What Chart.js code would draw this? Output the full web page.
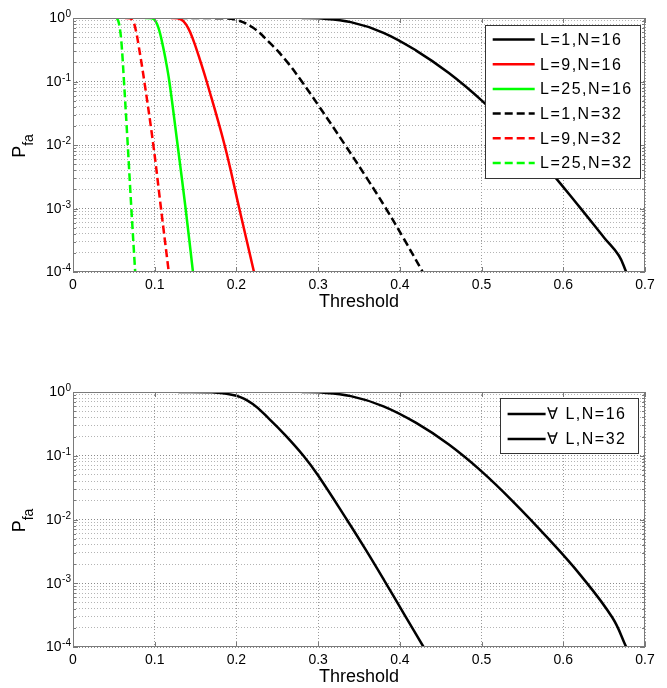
<!DOCTYPE html>
<html>
<head>
<meta charset="utf-8">
<script src="https://cdn.jsdelivr.net/npm/chart.js@4.4.1/dist/chart.umd.min.js"></script>
<style>
  body { margin: 0; background: #fff; }
  #wrap { position: relative; width: 667px; height: 688px; }
  canvas { position: absolute; left: 0; }
</style>
</head>
<body>
<div id="wrap">
  <canvas id="graficoArriba" width="667" height="344" style="top:0"></canvas>
  <canvas id="graficoAbajo" width="667" height="344" style="top:344px"></canvas>
</div>
<script>
// Datos (umbral vs Pfa)
const umbral_L1_N16 = [0.28, 0.30, 0.34, 0.38, 0.42, 0.46, 0.50, 0.54, 0.58, 0.62, 0.65, 0.668, 0.677];
const pfa_L1_N16    = [1, 0.989, 0.861, 0.585, 0.307, 0.136, 0.0505, 0.016, 0.0044, 0.00105, 0.000347, 0.000182, 0.0001];

const umbral_L9_N16 = [0.12, 0.128, 0.135, 0.141, 0.147, 0.1534, 0.1636, 0.1855, 0.2035, 0.2215];
const pfa_L9_N16    = [1, 0.989, 0.891, 0.692, 0.457, 0.263, 0.1, 0.01, 0.001, 0.0001];

const umbral_L25_N16 = [0.088, 0.097, 0.101, 0.105, 0.109, 0.113, 0.1179, 0.128, 0.1378, 0.1468];
const pfa_L25_N16    = [1, 0.989, 0.891, 0.676, 0.417, 0.234, 0.1, 0.01, 0.001, 0.0001];

const umbral_L1_N32 = [0.13, 0.18, 0.20, 0.22, 0.24, 0.26, 0.28, 0.30, 0.333, 0.36, 0.383, 0.405, 0.428];
const pfa_L1_N32    = [1, 0.993, 0.933, 0.708, 0.417, 0.219, 0.1, 0.0427, 0.01, 0.00295, 0.001, 0.000331, 0.0001];

const umbral_L9_N32 = [0.0636, 0.07, 0.0738, 0.077, 0.08, 0.0873, 0.0983, 0.1077, 0.1172];
const pfa_L9_N32    = [1, 0.989, 0.871, 0.631, 0.389, 0.1, 0.01, 0.001, 0.0001];

const umbral_L25_N32 = [0.0535, 0.0555, 0.0575, 0.0595, 0.0624, 0.067, 0.0714, 0.0761];
const pfa_L25_N32    = [1, 0.891, 0.661, 0.38, 0.1, 0.01, 0.001, 0.0001];

// Subgráfico inferior (todas las L)
const umbral_todasL_N16 = [0.28, 0.30, 0.34, 0.38, 0.42, 0.46, 0.50, 0.54, 0.58, 0.62, 0.66, 0.677];
const pfa_todasL_N16    = [1, 0.989, 0.861, 0.596, 0.327, 0.150, 0.0569, 0.0183, 0.00528, 0.00139, 0.00029, 0.0001];

const umbral_todasL_N32 = [0.129, 0.17, 0.20, 0.22, 0.24, 0.26, 0.282, 0.30, 0.335, 0.358, 0.381, 0.405, 0.429];
const pfa_todasL_N32    = [1, 0.989, 0.871, 0.646, 0.38, 0.209, 0.1, 0.049, 0.01, 0.00339, 0.0011, 0.000331, 0.0001];

const etiquetasArriba = ['L=1,N=16', 'L=9,N=16', 'L=25,N=16', 'L=1,N=32', 'L=9,N=32', 'L=25,N=32'];
const etiquetasAbajo = ['\u2200 L,N=16', '\u2200 L,N=32'];
const ticksX = [0, 0.1, 0.2, 0.3, 0.4, 0.5, 0.6, 0.7];
const decadas = [1e-4, 1e-3, 1e-2, 1e-1, 1];

const FUENTE = "'Liberation Sans', Arial, sans-serif";
const DISCONTINUA = [8, 4];

const puntos = (xs, ys) => xs.map((x, i) => ({ x: x, y: ys[i] }));
const esDecada = v => Math.abs(Math.log10(v) - Math.round(Math.log10(v))) < 1e-9;

// ticks del eje log: 1..9 x 10^k
const ticksY = [];
decadas.forEach((d, i) => {
  if (i === decadas.length - 1) { ticksY.push(d); return; }
  for (let m = 1; m <= 9; m++) ticksY.push(m * d);
});

function serie(label, xs, ys, color, dash) {
  return {
    label: label,
    data: puntos(xs, ys),
    borderColor: color,
    backgroundColor: color,
    borderWidth: 2.5,
    borderDash: dash || [],
    pointRadius: 0,
    fill: false,
    tension: 0.4
  };
}

function escalas() {
  return {
    x: {
      type: 'linear', min: 0, max: 0.7,
      afterBuildTicks: s => { s.ticks = ticksX.map(v => ({ value: v })); },
      afterFit: s => { s.height = 41; },
      ticks: { color: '#000', font: { family: FUENTE, size: 14 }, padding: 5, maxRotation: 0,
               callback: v => String(v) },
      grid: { color: '#9a9a9a', lineWidth: 1, drawTicks: false },
      border: { display: false, dash: [1, 2] },
      title: { display: true, text: 'Threshold', color: '#000',
               font: { family: FUENTE, size: 18 }, padding: 0 }
    },
    y: {
      type: 'logarithmic', min: 1e-4, max: 1,
      afterBuildTicks: s => { s.ticks = ticksY.map(v => ({ value: v })); },
      afterFit: s => { s.width = 73; },
      ticks: { display: false },
      grid: { color: c => (c.tick && esDecada(c.tick.value)) ? '#8a8a8a' : '#b4b4b4',
              lineWidth: 1, drawTicks: false },
      border: { display: false, dash: [1, 2] }
    }
  };
}

// Caja de ejes, marcas hacia dentro, etiquetas 10^k y título P_fa
const marco = {
  id: 'marco',
  afterDraw(chart) {
    const { ctx, chartArea: a, scales: { x, y } } = chart;
    ctx.save();
    ctx.strokeStyle = '#7a7a7a';
    ctx.lineWidth = 1;
    ctx.strokeRect(a.left + 0.5, a.top + 0.5, a.right - a.left - 1, a.bottom - a.top - 1);
    ctx.beginPath();
    x.ticks.forEach(t => {
      const px = Math.round(x.getPixelForValue(t.value)) + 0.5;
      ctx.moveTo(px, a.bottom); ctx.lineTo(px, a.bottom - 5);
      ctx.moveTo(px, a.top); ctx.lineTo(px, a.top + 5);
    });
    y.ticks.forEach(t => {
      const len = esDecada(t.value) ? 5 : 3;
      const py = Math.round(y.getPixelForValue(t.value)) + 0.5;
      ctx.moveTo(a.left, py); ctx.lineTo(a.left + len, py);
      ctx.moveTo(a.right, py); ctx.lineTo(a.right - len, py);
    });
    ctx.stroke();

    // etiquetas del eje y
    ctx.fillStyle = '#000';
    decadas.forEach(d => {
      const py = y.getPixelForValue(d);
      const exp = String(Math.round(Math.log10(d)));
      ctx.font = '10px ' + FUENTE;
      const we = ctx.measureText(exp).width;
      const xr = a.left - 2;
      ctx.textAlign = 'left';
      ctx.textBaseline = 'alphabetic';
      ctx.fillText(exp, xr - we, py - 1);
      ctx.font = '14px ' + FUENTE;
      ctx.textAlign = 'right';
      ctx.textBaseline = 'middle';
      ctx.fillText('10', xr - we - 0.5, py + 0.5);
    });

    // título del eje y: P con subíndice fa
    const cy = (a.top + a.bottom) / 2 + 1;
    ctx.translate(25, cy);
    ctx.rotate(-Math.PI / 2);
    ctx.font = '18px ' + FUENTE;
    const wP = ctx.measureText('P').width;
    ctx.font = '14px ' + FUENTE;
    const wS = ctx.measureText('fa').width;
    const u0 = -(wP + wS) / 2;
    ctx.textAlign = 'left';
    ctx.textBaseline = 'alphabetic';
    ctx.font = '18px ' + FUENTE;
    ctx.fillText('P', u0, 0);
    ctx.font = '14px ' + FUENTE;
    ctx.fillText('fa', u0 + wP, 8);
    ctx.restore();
  }
};

// Leyenda dentro del área de trazado, estilo MATLAB
const leyenda = {
  id: 'leyenda',
  afterDraw(chart, args, o) {
    const { ctx, chartArea: a } = chart;
    const x0 = a.right - o.right - o.width;
    const y0 = a.top + o.top;
    ctx.save();
    ctx.fillStyle = '#fff';
    ctx.fillRect(x0, y0, o.width, o.height);
    ctx.strokeStyle = '#333';
    ctx.lineWidth = 1;
    ctx.strokeRect(Math.round(x0) + 0.5, Math.round(y0) + 0.5, Math.round(o.width), Math.round(o.height));
    chart.data.datasets.forEach((ds, i) => {
      const yy = y0 + o.firstRow + i * o.rowGap;
      ctx.beginPath();
      ctx.strokeStyle = ds.borderColor;
      ctx.lineWidth = ds.borderWidth;
      ctx.setLineDash(ds.borderDash || []);
      ctx.moveTo(x0 + o.sampleX, yy);
      ctx.lineTo(x0 + o.sampleX + o.sampleLen, yy);
      ctx.stroke();
      ctx.setLineDash([]);
      ctx.fillStyle = '#000';
      ctx.font = o.fontSize + 'px ' + FUENTE;
      if ('letterSpacing' in ctx) ctx.letterSpacing = o.spacing + 'px';
      ctx.textAlign = 'left';
      ctx.textBaseline = 'middle';
      ctx.fillText(ds.label, x0 + o.textX, yy + 1);
      if ('letterSpacing' in ctx) ctx.letterSpacing = '0px';
    });
    ctx.restore();
  }
};

Chart.register(marco, leyenda);

const ctxArriba = document.getElementById('graficoArriba').getContext('2d');
const graficoArriba = new Chart(ctxArriba, {
  type: 'line',
  data: {
    datasets: [
      serie(etiquetasArriba[0], umbral_L1_N16, pfa_L1_N16, '#000000'),
      serie(etiquetasArriba[1], umbral_L9_N16, pfa_L9_N16, '#ff0000'),
      serie(etiquetasArriba[2], umbral_L25_N16, pfa_L25_N16, '#00ff00'),
      serie(etiquetasArriba[3], umbral_L1_N32, pfa_L1_N32, '#000000', DISCONTINUA),
      serie(etiquetasArriba[4], umbral_L9_N32, pfa_L9_N32, '#ff0000', DISCONTINUA),
      serie(etiquetasArriba[5], umbral_L25_N32, pfa_L25_N32, '#00ff00', DISCONTINUA)
    ]
  },
  options: {
    responsive: false,
    animation: false,
    layout: { padding: { top: 18, right: 22, bottom: 31, left: 0 } },
    scales: escalas(),
    plugins: {
      legend: { display: false },
      tooltip: { enabled: false },
      leyenda: { right: 5, top: 7, width: 155, height: 153, firstRow: 14.5, rowGap: 24.7,
                 sampleX: 7.7, sampleLen: 42, textX: 55, fontSize: 16, spacing: 1.5 }
    }
  }
});

const ctxAbajo = document.getElementById('graficoAbajo').getContext('2d');
const graficoAbajo = new Chart(ctxAbajo, {
  type: 'line',
  data: {
    datasets: [
      serie(etiquetasAbajo[0], umbral_todasL_N16, pfa_todasL_N16, '#000000'),
      serie(etiquetasAbajo[1], umbral_todasL_N32, pfa_todasL_N32, '#000000')
    ]
  },
  options: {
    responsive: false,
    animation: false,
    layout: { padding: { top: 48, right: 22, bottom: 0, left: 0 } },
    scales: escalas(),
    plugins: {
      legend: { display: false },
      tooltip: { enabled: false },
      leyenda: { right: 7, top: 6, width: 138, height: 55, firstRow: 16, rowGap: 25,
                 sampleX: 7.6, sampleLen: 38, textX: 47, fontSize: 16, spacing: 1.5 }
    }
  }
});
</script>
</body>
</html>
